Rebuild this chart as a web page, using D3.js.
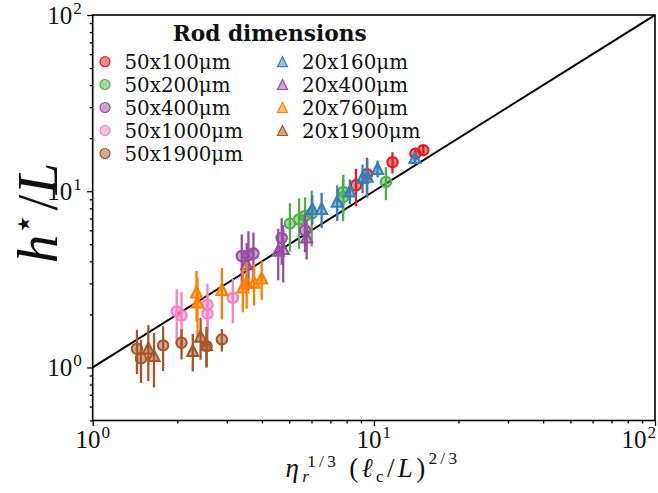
<!DOCTYPE html>
<html>
<head>
<meta charset="utf-8">
<script src="https://cdn.jsdelivr.net/npm/d3@7"></script>
<style>
  body { margin: 0; background: #fff; }
  svg { display: block; }
</style>
</head>
<body>
<svg id="chart" width="658" height="493"></svg>
<script>
// ---- data: scaled length vs. rescaled settling height, one set of arrays per rod size ----
const r50x100_x   = [8.64, 9.45, 11.65, 14.06, 14.99];
const r50x100_y   = [10.81, 12.5, 14.62, 16.33, 17.1];
const r50x100_err = [2.6, 3.0, 2.0, 1.2, 1.2];

const r50x200_x   = [5.03, 5.42, 5.69, 6.01, 7.77, 7.79, 11.04];
const r50x200_y   = [6.55, 6.91, 7.24, 7.47, 9.25, 9.91, 11.29];
const r50x200_err = [2.0, 2.2, 2.0, 2.6, 2.5, 2.5, 2.4];

const r50x400_x   = [3.39, 3.58, 3.73, 4.70, 5.69];
const r50x400_y   = [4.29, 4.33, 4.43, 5.43, 6.0];
const r50x400_err = [1.4, 1.6, 1.4, 1.6, 1.5];

const r50x1000_x   = [1.99, 2.07, 2.56, 2.56, 3.15];
const r50x1000_y   = [2.08, 1.97, 2.27, 2.02, 2.48];
const r50x1000_err = [0.7, 0.7, 0.72, 0.6, 0.7];

const r50x1900_x   = [1.437, 1.485, 1.78, 2.07, 2.54, 2.88];
const r50x1900_y   = [1.277, 1.125, 1.334, 1.381, 1.32, 1.442];
const r50x1900_err = [0.36, 0.31, 0.38, 0.27, 0.3, 0.21];

const r20x160_x   = [6.04, 6.52, 7.41, 8.22, 9.12, 9.47, 10.31, 14.0];
const r20x160_y   = [7.98, 7.98, 8.78, 10.04, 11.96, 12.17, 13.45, 15.54];
const r20x160_err = [1.5, 1.8, 2.0, 1.6, 2.2, 3.0, 1.5, 1.0];

const r20x400_x   = [3.53, 4.57, 4.76, 5.77];
const r20x400_y   = [3.88, 4.62, 4.73, 5.50];
const r20x400_err = [1.2, 1.5, 1.7, 1.4];

const r20x760_x   = [2.34, 2.36, 2.88, 3.42, 3.53, 3.75, 3.99];
const r20x760_y   = [2.68, 2.35, 2.77, 2.86, 3.05, 3.05, 3.22];
const r20x760_err = [0.85, 0.88, 0.9, 0.8, 0.9, 0.8, 0.8];

const r20x1900_x   = [1.577, 1.652, 2.27, 2.42, 2.54];
const r20x1900_y   = [1.287, 1.17, 1.249, 1.506, 1.346];
const r20x1900_err = [0.45, 0.4, 0.3, 0.4, 0.35];

const seriesLabels = ["50x100μm", "50x200μm", "50x400μm", "50x1000μm", "50x1900μm",
                      "20x160μm", "20x400μm", "20x760μm", "20x1900μm"];
const seriesColors = ["#e41a1c", "#4daf4a", "#984ea3", "#f781bf", "#a65628",
                      "#377eb8", "#984ea3", "#ff7f00", "#a65628"];
const seriesShapes = ["circle", "circle", "circle", "circle", "circle",
                      "triangle", "triangle", "triangle", "triangle"];
const seriesX   = [r50x100_x, r50x200_x, r50x400_x, r50x1000_x, r50x1900_x,
                   r20x160_x, r20x400_x, r20x760_x, r20x1900_x];
const seriesY   = [r50x100_y, r50x200_y, r50x400_y, r50x1000_y, r50x1900_y,
                   r20x160_y, r20x400_y, r20x760_y, r20x1900_y];
const seriesErr = [r50x100_err, r50x200_err, r50x400_err, r50x1000_err, r50x1900_err,
                   r20x160_err, r20x400_err, r20x760_err, r20x1900_err];

const xDomain = [1, 100];
const yDomain = [0.5, 100];
const majorTicks = [1, 10, 100];
const tickExponents = ["0", "1", "2"];
const legendTitle = "Rod dimensions";
const refLine = [1, 100];   // y = x

// ---- layout ----
const W = 658;
const svg = d3.select("#chart");
const plot = { left: 92.7, right: 655, top: 15, bottom: 420.5 };
const serif = "'Liberation Serif', 'DejaVu Serif', serif";
const legendFont = "'DejaVu Serif', serif";

const x = d3.scaleLog().domain(xDomain).range([plot.left, plot.right]);
const y = d3.scaleLog().domain(yDomain).range([plot.bottom, plot.top]);

function fitWidth(sel, target) {
  const w = sel.node().getComputedTextLength();
  const fs = parseFloat(sel.attr("font-size"));
  sel.attr("font-size", fs * target / w);
  return fs * target / w;
}

svg.append("defs").append("clipPath").attr("id", "clip")
  .append("rect").attr("x", plot.left).attr("y", plot.top)
  .attr("width", plot.right - plot.left).attr("height", plot.bottom - plot.top);

// ---- axes (ticks outward, left and bottom only) ----
const decadeMinors = d3.range(0, 2).flatMap(k => d3.range(2, 10).map(m => m * Math.pow(10, k)));
const xAxis = d3.axisBottom(x).tickValues(majorTicks).tickSize(5.5).tickFormat("");
const xMinor = d3.axisBottom(x).tickValues(decadeMinors).tickSize(3).tickFormat("");
const yAxis = d3.axisLeft(y).tickValues(majorTicks).tickSize(5.5).tickFormat("");
const yMinor = d3.axisLeft(y).tickValues([0.5, 0.6, 0.7, 0.8, 0.9].concat(decadeMinors))
  .tickSize(3).tickFormat("");

function styleAxis(g) {
  g.select(".domain").remove();
  g.selectAll("line").attr("stroke", "#000").attr("stroke-width", 1.3);
}
svg.append("g").attr("transform", `translate(0,${plot.bottom})`).call(xAxis).call(styleAxis);
svg.append("g").attr("transform", `translate(0,${plot.bottom})`).call(xMinor).call(styleAxis);
svg.append("g").attr("transform", `translate(${plot.left},0)`).call(yAxis).call(styleAxis);
svg.append("g").attr("transform", `translate(${plot.left},0)`).call(yMinor).call(styleAxis);

// tick labels as 10^k
function powerLabel(anchor, px, py, exp) {
  const t = svg.append("text")
    .attr("font-family", serif).attr("font-size", 25).attr("fill", "#111")
    .attr("text-anchor", anchor).attr("x", px).attr("y", py);
  t.append("tspan").text("10");
  t.append("tspan").attr("font-size", 17).attr("dy", -10).attr("dx", 1).text(exp);
  return t;
}
majorTicks.forEach((v, i) => {
  const t = powerLabel("middle", x(v), plot.bottom + 27, tickExponents[i]);
  // keep the rightmost label inside the canvas
  const bb = t.node().getBBox();
  if (bb.x + bb.width > W - 2) t.attr("x", x(v) - (bb.x + bb.width - (W - 2)));
  powerLabel("end", plot.left - 11, y(v) + 8.5, tickExponents[i]);
});

// x-axis title: eta_r^{1/3} (l_c/L)^{2/3}
function buildXLabel(B, spacing) {
  const s = B * 0.64;
  const t = svg.append("text")
    .attr("font-family", serif).attr("font-size", B).attr("fill", "#111")
    .attr("letter-spacing", spacing)
    .attr("text-anchor", "middle").attr("x", 373).attr("y", 477);
  t.append("tspan").attr("font-style", "italic").text("η");
  t.append("tspan").attr("font-size", s).attr("font-style", "italic")
    .attr("dy", B * 0.2).text("r");
  t.append("tspan").attr("font-size", s).attr("dx", -s * 0.3).attr("dy", -B * 0.58).text("1/3");
  t.append("tspan").attr("dy", B * 0.38).text(" (");
  t.append("tspan").attr("font-style", "italic").text("ℓ");
  t.append("tspan").attr("font-size", s).attr("dy", B * 0.2).text("c");
  t.append("tspan").attr("dy", -B * 0.2).text("/");
  t.append("tspan").attr("font-style", "italic").text("L");
  t.append("tspan").text(")");
  t.append("tspan").attr("font-size", s).attr("dy", -B * 0.48).text("2/3");
  return t;
}
const xlSize = 27;
let xl = buildXLabel(xlSize, 0);
const xlW = xl.node().getComputedTextLength();
xl.remove();
xl = buildXLabel(xlSize, Math.max(0, (180 - xlW) / 15));

// y-axis title: h*/L
function buildYLabel(B) {
  const t = svg.append("text")
    .attr("font-family", serif).attr("font-size", B).attr("fill", "#111")
    .attr("text-anchor", "middle")
    .attr("transform", "translate(57,213) rotate(-90)");
  t.append("tspan").attr("font-style", "italic").text("h");
  t.append("tspan").attr("font-size", B * 0.62).attr("dy", -B * 0.38).text("⋆");
  t.append("tspan").attr("dy", B * 0.38).attr("dx", B * 0.04).text("/");
  t.append("tspan").attr("font-style", "italic").text("L");
  return t;
}
let yl = buildYLabel(42);
const ylW = yl.node().getComputedTextLength();
yl.remove();
yl = buildYLabel(42 * 98 / ylW);

// ---- reference line y = x ----
const dataG = svg.append("g").attr("clip-path", "url(#clip)");
dataG.append("line")
  .attr("x1", x(refLine[0])).attr("y1", y(refLine[0]))
  .attr("x2", x(refLine[1])).attr("y2", y(refLine[1]))
  .attr("stroke", "#000").attr("stroke-width", 2);

// ---- markers ----
function trianglePath(s) {
  return `M0,${-s}L${s},${s}L${-s},${s}Z`;
}
function drawMarker(g, shape, color, cx, cy) {
  if (shape === "circle") {
    g.append("circle").attr("cx", cx).attr("cy", cy).attr("r", 5.2)
      .attr("fill", color).attr("fill-opacity", 0.5)
      .attr("stroke", color).attr("stroke-width", 2.1);
  } else {
    g.append("path").attr("d", trianglePath(5.5))
      .attr("transform", `translate(${cx},${cy})`)
      .attr("fill", color).attr("fill-opacity", 0.5)
      .attr("stroke", color).attr("stroke-width", 2.1).attr("stroke-linejoin", "miter");
  }
}

seriesLabels.forEach((name, si) => {
  const g = dataG.append("g");
  const color = seriesColors[si];
  seriesX[si].forEach((xv, i) => {
    const yv = seriesY[si][i], e = seriesErr[si][i];
    g.append("line")
      .attr("x1", x(xv)).attr("x2", x(xv))
      .attr("y1", y(Math.max(yv - e, 0.01))).attr("y2", y(yv + e))
      .attr("stroke", color).attr("stroke-width", 2.3);
  });
  seriesX[si].forEach((xv, i) => {
    drawMarker(g, seriesShapes[si], color, x(xv), y(seriesY[si][i]));
  });
});

// ---- frame ----
svg.append("rect")
  .attr("x", plot.left).attr("y", plot.top)
  .attr("width", plot.right - plot.left).attr("height", plot.bottom - plot.top)
  .attr("fill", "none").attr("stroke", "#000").attr("stroke-width", 1.6);

// ---- legend ----
const lg = svg.append("g");
const title = lg.append("text").attr("font-family", legendFont).attr("font-weight", "bold")
  .attr("font-size", 20).attr("fill", "#111").attr("text-anchor", "middle")
  .attr("x", 269.7).attr("y", 41).text(legendTitle);
fitWidth(title, 194);

const probe = lg.append("text").attr("font-family", legendFont).attr("font-size", 19)
  .text(seriesLabels[5]);
const legendSize = fitWidth(probe, 106);
probe.remove();

const colX = [105, 282.5];
const rowY = [61.7, 84.5, 107.5, 130.5, 153.5];
seriesLabels.forEach((name, si) => {
  const col = si < 5 ? 0 : 1;
  const row = si < 5 ? si : si - 5;
  const cx = colX[col], cy = rowY[row];
  if (seriesShapes[si] === "circle") {
    lg.append("circle").attr("cx", cx).attr("cy", cy).attr("r", 5)
      .attr("fill", seriesColors[si]).attr("fill-opacity", 0.5)
      .attr("stroke", seriesColors[si]).attr("stroke-width", 1.2);
  } else {
    lg.append("path").attr("d", trianglePath(5))
      .attr("transform", `translate(${cx},${cy})`)
      .attr("fill", seriesColors[si]).attr("fill-opacity", 0.5)
      .attr("stroke", seriesColors[si]).attr("stroke-width", 1.2);
  }
  lg.append("text").attr("font-family", legendFont).attr("font-size", legendSize)
    .attr("fill", "#111").attr("x", cx + 19.5).attr("y", cy + 7.5).text(name);
});
</script>
</body>
</html>
